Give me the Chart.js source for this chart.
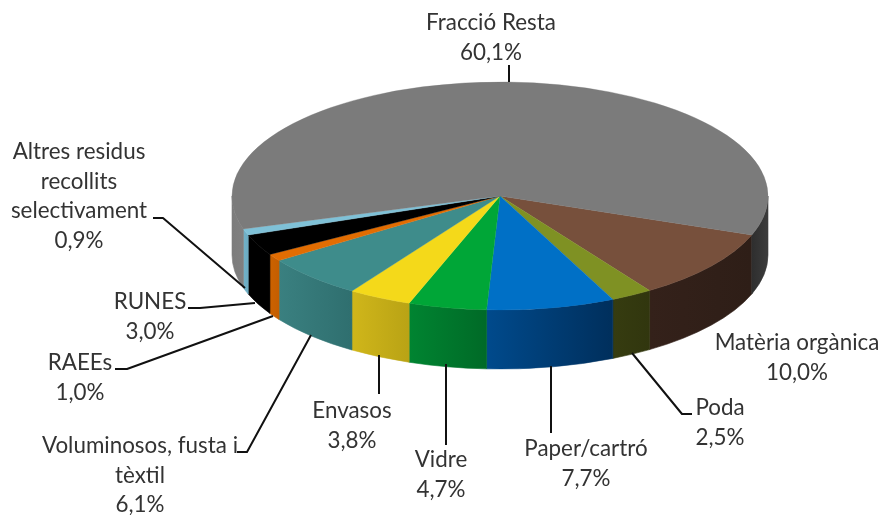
<!DOCTYPE html>
<html lang="ca">
<head>
<meta charset="utf-8">
<title>Residus</title>
<script src="https://cdn.jsdelivr.net/npm/chart.js@4/dist/chart.umd.min.js"></script>
<style>html,body{margin:0;padding:0;background:#fff}canvas{display:block}</style>
</head>
<body>
<canvas id="c" width="882" height="515"></canvas>
<script>
// Data
const categories = ["Matèria orgànica","Poda","Paper/cartró","Vidre","Envasos","Voluminosos, fusta i tèxtil","RAEEs","RUNES","Altres residus recollits selectivament","Fracció Resta"];
const values = [10.0,2.5,7.7,4.7,3.8,6.1,1.0,3.0,0.9,60.1];
const valueLabels = ["10,0%","2,5%","7,7%","4,7%","3,8%","6,1%","1,0%","3,0%","0,9%","60,1%"];

// Styles
const topColors = ["#77503c","#7f9123","#0070c6","#00a637","#f4d91a","#3e8c8b","#e26d02","#000000","#7fc1d7","#7b7b7b"];
const wallColors = [
  [["#34211a","#2e1e17"]],
  [["#363c10","#31360e"]],
  [["#004a8c","#002f5c"]],
  [["#008431","#006a27"]],
  [["#d0b61a","#b9a315"]],
  [["#3a8080","#2f6f6f"]],
  [["#cc6200","#c45e00"]],
  [["#000000","#000000"]],
  [["#72b2c8","#6cacc2"]],
  [["#2e2e2e","#3c3c3c"],["#7c7c7c","#808080"]]
];

// Layout
const LINE_H = 29.5;
const FONT = '22.4px Lato, "Open Sans", sans-serif';
const TEXT_COLOR = "#333333";
const labelLayout = [
  {lines:["Matèria orgànica"], cx:797, y:343, leader:null},
  {lines:["Poda"], cx:720, y:408, leader:[[692,414],[682,414],[632,353]]},
  {lines:["Paper/cartró"], cx:586, y:449, leader:[[551,433],[551,366]]},
  {lines:["Vidre"], cx:441, y:460, leader:[[446,445],[446,364]]},
  {lines:["Envasos"], cx:352, y:411, leader:[[379,394],[379,355]]},
  {lines:["Voluminosos, fusta i","tèxtil"], cx:140, y:446, leader:[[237,452],[247,452],[311,335]]},
  {lines:["RAEEs"], cx:80, y:363, leader:[[115,369],[127,369],[273,316]]},
  {lines:["RUNES"], cx:150, y:302, leader:[[188,308],[200,308],[255,303]]},
  {lines:["Altres residus","recollits","selectivament"], cx:79, y:152, leader:[[153,218],[163,218],[245,288]]},
  {lines:["Fracció Resta"], cx:491, y:23, leader:[[509,65],[509,82]]}
];
const ROTATION = 110, RADIUS = 268, SQUASH = 114/268, DEPTH = 59;

const pie3d = {
  id:"pie3d",
  beforeDatasetDraw(chart){
    const ctx = chart.ctx, arcs = chart.getDatasetMeta(0).data;
    const PI = Math.PI;
    arcs.forEach((arc,i)=>{
      const {x,y,startAngle:s,endAngle:e,outerRadius:R} = arc;
      const ranges = [[Math.max(s,0),Math.min(e,PI)],[Math.max(s,2*PI),Math.min(e,3*PI)]].filter(r=>r[1]>r[0]);
      ranges.forEach((r,j)=>{
        const rx = R, ry = R*SQUASH;
        const xa = x+rx*Math.cos(r[0]), xb = x+rx*Math.cos(r[1]);
        const pair = ranges.length>1 ? wallColors[i][j===0?1:0] : wallColors[i][0];
        const g = ctx.createLinearGradient(Math.min(xa,xb),0,Math.max(xa,xb),0);
        g.addColorStop(0,pair[0]); g.addColorStop(1,pair[1]);
        ctx.beginPath();
        ctx.ellipse(x,y,rx,ry,0,r[0],r[1],false);
        ctx.lineTo(x+rx*Math.cos(r[1]),y+ry*Math.sin(r[1])+DEPTH);
        ctx.ellipse(x,y+DEPTH,rx,ry,0,r[1],r[0],true);
        ctx.closePath();
        ctx.fillStyle = g; ctx.fill();
        ctx.strokeStyle = g; ctx.lineWidth = 0.6; ctx.stroke();
      });
    });
    const a0 = arcs[0];
    ctx.save();
    ctx.translate(a0.x,a0.y); ctx.scale(1,SQUASH); ctx.translate(-a0.x,-a0.y);
  },
  afterDatasetDraw(chart){ chart.ctx.restore(); },
  afterDraw(chart){
    const ctx = chart.ctx;
    ctx.save();
    ctx.strokeStyle = "#111"; ctx.lineWidth = 2; ctx.lineJoin = "round";
    labelLayout.forEach(l=>{
      if(!l.leader) return;
      ctx.beginPath();
      l.leader.forEach((p,k)=> k? ctx.lineTo(p[0],p[1]) : ctx.moveTo(p[0],p[1]));
      ctx.stroke();
    });
    ctx.font = FONT; ctx.fillStyle = TEXT_COLOR; ctx.textAlign = "center"; ctx.textBaseline = "middle";
    labelLayout.forEach((l,i)=>{
      const rows = l.lines.concat(valueLabels[i]);
      rows.forEach((t,k)=> ctx.fillText(t,l.cx,l.y+k*LINE_H));
    });
    ctx.restore();
  }
};

new Chart(document.getElementById("c"),{
  type:"pie",
  data:{labels:categories,datasets:[{
    data:values,
    backgroundColor:topColors,
    borderColor:topColors,
    borderWidth:0.5,
    radius:RADIUS,
    clip:false
  }]},
  options:{
    responsive:false,
    animation:false,
    events:[],
    rotation:ROTATION,
    layout:{padding:{left:118,right:0,top:0,bottom:123}},
    plugins:{legend:{display:false},tooltip:{enabled:false},title:{display:false}}
  },
  plugins:[pie3d]
});
</script>
</body>
</html>
